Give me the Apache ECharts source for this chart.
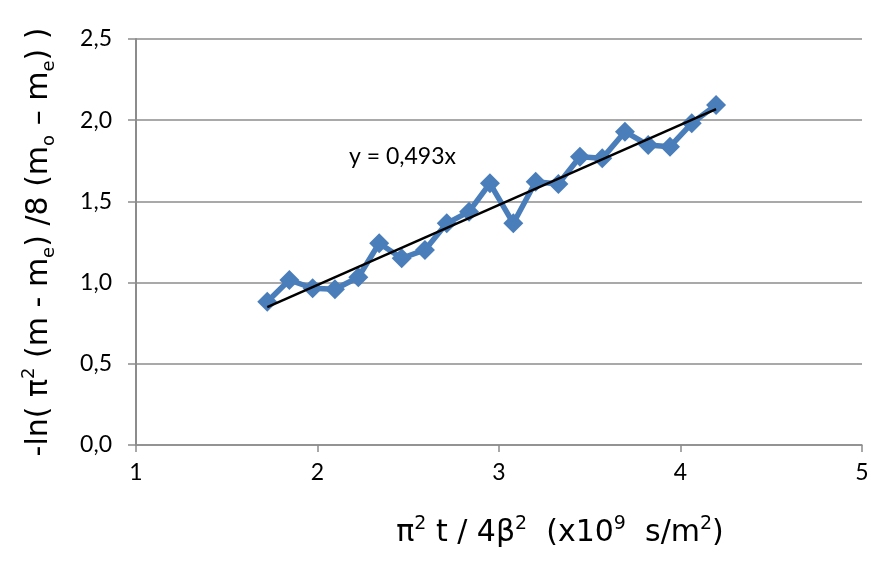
<!DOCTYPE html>
<html>
<head>
<meta charset="utf-8">
<title>chart</title>
<script src="https://cdn.jsdelivr.net/npm/echarts@6/dist/echarts.min.js"></script>
<style>
  html, body { margin: 0; padding: 0; background: #fff; }
  #chart { width: 881px; height: 563px; }
</style>
</head>
<body>
<div id="chart"></div>
<script>
// measured points
const xValues = [1.723, 1.845, 1.973, 2.096, 2.225, 2.340, 2.464, 2.592, 2.712, 2.835, 2.950,
                 3.079, 3.202, 3.327, 3.446, 3.569, 3.694, 3.822, 3.942, 4.062, 4.196];
const yValues = [0.882, 1.016, 0.965, 0.959, 1.033, 1.242, 1.150, 1.201, 1.365, 1.437, 1.611,
                 1.365, 1.621, 1.607, 1.775, 1.765, 1.929, 1.847, 1.837, 1.981, 2.094];
const slope = 0.493;
const xTickLabels = ['1', '2', '3', '4', '5'];
const yTickLabels = ['0,0', '0,5', '1,0', '1,5', '2,0', '2,5'];

const FONT = 'Lato, "Open Sans", sans-serif';
const NAME_FONT = '"DejaVu Sans", "Open Sans", sans-serif';
const points = xValues.map((x, i) => [x, yValues[i]]);
const xFirst = xValues[0], xLast = xValues[xValues.length - 1];
const trend = [[xFirst, slope * xFirst], [xLast, slope * xLast]];

const chart = echarts.init(document.getElementById('chart'));
chart.setOption({
  animation: false,
  grid: { left: 136, right: 19, top: 39, bottom: 118 },
  xAxis: {
    type: 'value',
    min: 1, max: 5, interval: 1,
    axisLine: { show: true, lineStyle: { color: '#8c8c8c', width: 1.5 } },
    axisTick: { show: true, length: 7, lineStyle: { color: '#8c8c8c', width: 1.5 } },
    splitLine: { show: false },
    axisLabel: {
      color: '#000', fontSize: 23, fontFamily: FONT, margin: 16,
      formatter: (v) => xTickLabels[Math.round(v) - 1]
    },
    name: '{t|π}{s|2}{t| t / 4β}{s|2}{t|  (x10}{s|9}{t|  s/m}{s|2}{t|)}',
    nameLocation: 'middle',
    nameGap: 70,
    nameTextStyle: {
      padding: [0, 0, 0, 122],
      rich: {
        t: { fontSize: 30, fontFamily: NAME_FONT, color: '#000', lineHeight: 36 },
        s: { fontSize: 19, fontFamily: NAME_FONT, color: '#000', verticalAlign: 'top', lineHeight: 36 }
      }
    }
  },
  yAxis: {
    type: 'value',
    min: 0, max: 2.5, interval: 0.5,
    axisLine: { show: true, lineStyle: { color: '#8c8c8c', width: 2 } },
    axisTick: { show: true, length: 8, lineStyle: { color: '#8c8c8c', width: 1.5 } },
    splitLine: { show: true, lineStyle: { color: '#8c8c8c', width: 1.5 } },
    axisLabel: {
      color: '#000', fontSize: 23, fontFamily: FONT, margin: 24,
      formatter: (v) => yTickLabels[Math.round(v * 2)]
    },
    name: '{t|-ln( π}{s|2}{t| (m - m}{b|e}{t|) /8 (m}{b|o}{t| – m}{b|e}{t|) )}',
    nameLocation: 'middle',
    nameRotate: 90,
    nameGap: 78,
    nameTextStyle: {
      rich: {
        t: { fontSize: 30, fontFamily: NAME_FONT, color: '#000', lineHeight: 38 },
        s: { fontSize: 18, fontFamily: NAME_FONT, color: '#000', verticalAlign: 'top', lineHeight: 38 },
        b: { fontSize: 18, fontFamily: NAME_FONT, color: '#000', verticalAlign: 'bottom', lineHeight: 32 }
      }
    }
  },
  series: [
    {
      type: 'line',
      data: points,
      symbol: 'diamond',
      symbolSize: 20,
      lineStyle: { color: '#4a7ebb', width: 5.5 },
      itemStyle: { color: '#4a7ebb' },
      z: 2
    },
    {
      type: 'line',
      data: trend,
      symbol: 'none',
      lineStyle: { color: '#000', width: 2.5 },
      z: 3
    }
  ],
  graphic: [
    {
      type: 'text',
      left: 349, top: 145,
      style: { text: 'y = 0,493x', fontSize: 23, fontFamily: FONT, fill: '#000' }
    }
  ]
});
</script>
</body>
</html>
